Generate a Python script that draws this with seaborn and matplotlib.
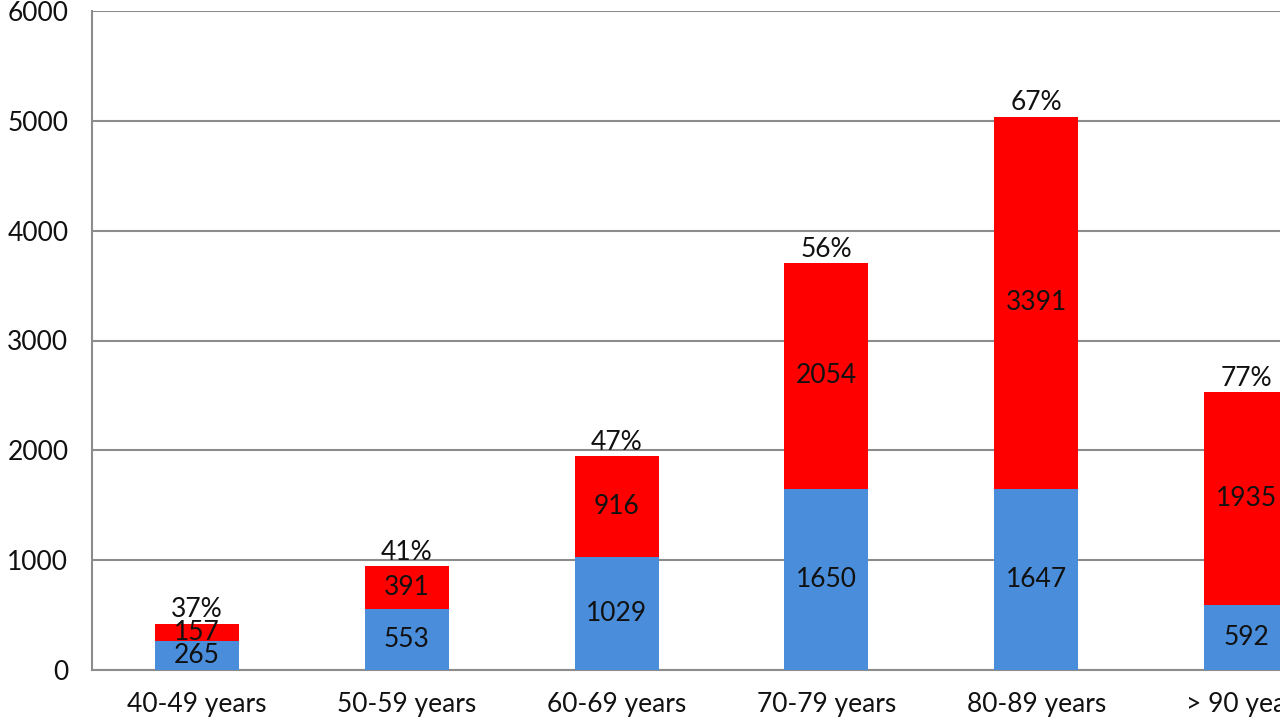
import matplotlib.pyplot as plt
import pandas as pd
import seaborn as sns

categories = ["40-49 years", "50-59 years", "60-69 years",
              "70-79 years", "80-89 years", "> 90 years"]
blue_values = [265, 553, 1029, 1650, 1647, 592]
red_values = [157, 391, 916, 2054, 3391, 1935]
percent_labels = ["37%", "41%", "47%", "56%", "67%", "77%"]

df = pd.DataFrame({"Age": categories, "Blue": blue_values, "Red": red_values})
df["Total"] = df["Blue"] + df["Red"]

sns.set_theme(style="white")
plt.rcParams["font.family"] = ["Lato", "DejaVu Sans"]

fig = plt.figure(figsize=(12.8, 7.2), dpi=100)
# the right side of the chart is cut off in the reference
ax = fig.add_axes([92 / 1280, 50 / 720, 1259 / 1280, 659 / 720])

sns.barplot(data=df, x="Age", y="Total", color="#ff0000", saturation=1,
            width=0.4, linewidth=0, ax=ax, zorder=3)
sns.barplot(data=df, x="Age", y="Blue", color="#4a8edb", saturation=1,
            width=0.4, linewidth=0, ax=ax, zorder=3)

for i, row in df.iterrows():
    ax.text(i, row["Blue"] / 2, str(row["Blue"]), ha="center", va="center",
            fontsize=19, color="#111111", zorder=4)
    ax.text(i, row["Blue"] + row["Red"] / 2, str(row["Red"]), ha="center",
            va="center", fontsize=19, color="#111111", zorder=4)
    ax.text(i, row["Total"] + 15, percent_labels[i], ha="center",
            va="bottom", fontsize=19, color="#111111", zorder=4)

ax.set_xlim(-0.5, 5.5)
ax.set_ylim(0, 6000)
ax.set_yticks(range(0, 6001, 1000))
ax.set_xlabel("")
ax.set_ylabel("")
ax.grid(axis="y", color="#8c8c8c", linewidth=1.5, zorder=0)
ax.set_axisbelow(True)
for side in ["top", "right"]:
    ax.spines[side].set_visible(False)
ax.spines["left"].set_color("#8c8c8c")
ax.spines["left"].set_linewidth(1.5)
ax.spines["bottom"].set_color("#8c8c8c")
ax.spines["bottom"].set_linewidth(1.5)
ax.tick_params(axis="y", length=0, pad=17, labelsize=19, labelcolor="#111111")
ax.tick_params(axis="x", length=0, pad=16, labelsize=19, labelcolor="#111111")

fig.savefig("out.png", dpi=100)
